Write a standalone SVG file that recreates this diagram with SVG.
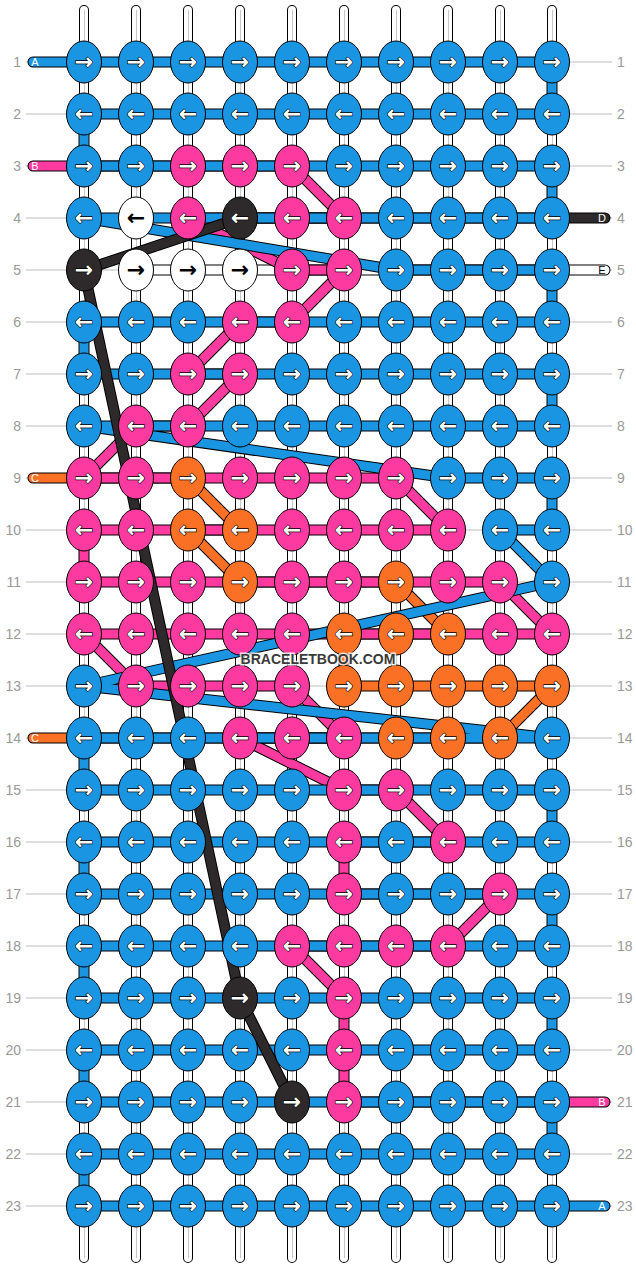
<svg xmlns="http://www.w3.org/2000/svg" width="636" height="1268" viewBox="0 0 636 1268">
<style>
.bg{fill:#fff}
.guide{stroke:#bbb;stroke-width:1}
.num{font-family:"Liberation Sans",Arial,sans-serif;font-size:14px;fill:#999}
.nl{text-anchor:end}
.so{stroke:#000;stroke-width:10;stroke-linecap:round;fill:none}
.sw{stroke:#fff;stroke-width:8;stroke-linecap:round;fill:none}
.sg{stroke:#c8c8c8;stroke-width:1;fill:none}
.o{fill:none;stroke:#000;stroke-width:11;stroke-linejoin:round;stroke-linecap:round}
.c{fill:none;stroke-width:9;stroke-linejoin:round;stroke-linecap:round}
.ca{stroke:#1995e2}.cb{stroke:#fd3a9f}.cc{stroke:#fa7024}.cd{stroke:#2e2a2b}.ce{stroke:#fff}
ellipse{stroke:#000;stroke-width:1}
.kb{fill:#1995e2}.kp{fill:#fd3a9f}.ko{fill:#fa7024}.kd{fill:#2e2a2b}.kw{fill:#fff}
.t{font-family:"DejaVu Sans",sans-serif;font-size:22px;font-weight:bold;text-anchor:middle}
.tw{fill:#fff;stroke:#000;stroke-width:1.2;paint-order:stroke}
.tk{fill:#000}
.tl{font-family:"Liberation Sans",Arial,sans-serif;font-size:11px;text-anchor:middle}
.wm{font-family:"Liberation Sans",Arial,sans-serif;font-size:14px;font-weight:bold;text-anchor:middle;fill:#3a3a3a;stroke:#fff;stroke-opacity:0.8;stroke-width:3;paint-order:stroke}
</style>
<rect class="bg" x="0" y="0" width="636" height="1268"/>
<g id="guides">
<path class="guide" d="M26 62H612M26 114H612M26 166H612M26 218H612M26 270H612M26 322H612M26 374H612M26 426H612M26 478H612M26 530H612M26 582H612M26 634H612M26 686H612M26 738H612M26 790H612M26 842H612M26 894H612M26 946H612M26 998H612M26 1050H612M26 1102H612M26 1154H612M26 1206H612"/>
</g>
<g id="row-numbers">
<text class="num nl" x="21" y="67">1</text><text class="num" x="617" y="67">1</text>
<text class="num nl" x="21" y="119">2</text><text class="num" x="617" y="119">2</text>
<text class="num nl" x="21" y="171">3</text><text class="num" x="617" y="171">3</text>
<text class="num nl" x="21" y="223">4</text><text class="num" x="617" y="223">4</text>
<text class="num nl" x="21" y="275">5</text><text class="num" x="617" y="275">5</text>
<text class="num nl" x="21" y="327">6</text><text class="num" x="617" y="327">6</text>
<text class="num nl" x="21" y="379">7</text><text class="num" x="617" y="379">7</text>
<text class="num nl" x="21" y="431">8</text><text class="num" x="617" y="431">8</text>
<text class="num nl" x="21" y="483">9</text><text class="num" x="617" y="483">9</text>
<text class="num nl" x="21" y="535">10</text><text class="num" x="617" y="535">10</text>
<text class="num nl" x="21" y="587">11</text><text class="num" x="617" y="587">11</text>
<text class="num nl" x="21" y="639">12</text><text class="num" x="617" y="639">12</text>
<text class="num nl" x="21" y="691">13</text><text class="num" x="617" y="691">13</text>
<text class="num nl" x="21" y="743">14</text><text class="num" x="617" y="743">14</text>
<text class="num nl" x="21" y="795">15</text><text class="num" x="617" y="795">15</text>
<text class="num nl" x="21" y="847">16</text><text class="num" x="617" y="847">16</text>
<text class="num nl" x="21" y="899">17</text><text class="num" x="617" y="899">17</text>
<text class="num nl" x="21" y="951">18</text><text class="num" x="617" y="951">18</text>
<text class="num nl" x="21" y="1003">19</text><text class="num" x="617" y="1003">19</text>
<text class="num nl" x="21" y="1055">20</text><text class="num" x="617" y="1055">20</text>
<text class="num nl" x="21" y="1107">21</text><text class="num" x="617" y="1107">21</text>
<text class="num nl" x="21" y="1159">22</text><text class="num" x="617" y="1159">22</text>
<text class="num nl" x="21" y="1211">23</text><text class="num" x="617" y="1211">23</text>
</g>
<g id="strands">
<path class="so" d="M84 10V1258M136 10V1258M188 10V1258M240 10V1258M292 10V1258M344 10V1258M396 10V1258M448 10V1258M500 10V1258M552 10V1258"/>
<path class="sw" d="M84 10V1258M136 10V1258M188 10V1258M240 10V1258M292 10V1258M344 10V1258M396 10V1258M448 10V1258M500 10V1258M552 10V1258"/>
<path class="sg" d="M84.5 10V1258M136.5 10V1258M188.5 10V1258M240.5 10V1258M292.5 10V1258M344.5 10V1258M396.5 10V1258M448.5 10V1258M500.5 10V1258M552.5 10V1258"/>
</g>
<g id="connectors">
<g id="thread-E"><path class="o" d="M136 270H605"/><path class="c ce" d="M136 270H605"/></g>
<g id="thread-C"><path class="o" d="M33 478H188L240 530H188L240 582H396L448 634H344V686H552L500 738H33"/><path class="c cc" d="M33 478H188L240 530H188L240 582H396L448 634H344V686H552L500 738H33"/></g>
<g id="thread-D-tail"><path class="o" d="M605 218H240"/><path class="c cd" d="M605 218H240"/></g>
<g id="thread-B"><path class="o" d="M33 166H292L344 218H188L292 270H344L292 322H240L188 374H240L188 426H136L84 478H396L448 530H84V582H500L552 634H84L136 686H292L344 738H240L344 790H396L448 842H344V894H500L448 946H292L344 998V1102H605"/><path class="c cb" d="M33 166H292L344 218H188L292 270H344L292 322H240L188 374H240L188 426H136L84 478H396L448 530H84V582H500L552 634H84L136 686H292L344 738H240L344 790H396L448 842H344V894H500L448 946H292L344 998V1102H605"/></g>
<g id="thread-A"><path class="o" d="M33 62H552V114H84V166H552V218H84L396 270H552V322H84V374H552V426H84L448 478H552V530H500L552 582L84 686L552 738H84V790H552V842H84V894H552V946H84V998H552V1050H84V1102H552V1154H84V1206H605"/><path class="c ca" d="M33 62H552V114H84V166H552V218H84L396 270H552V322H84V374H552V426H84L448 478H552V530H500L552 582L84 686L552 738H84V790H552V842H84V894H552V946H84V998H552V1050H84V1102H552V1154H84V1206H605"/></g>
<g id="thread-D"><path class="o" d="M240 218L84 270L240 998L292 1102"/><path class="c cd" d="M240 218L84 270L240 998L292 1102"/></g>
</g>
<g id="tail-labels">
<text class="tl" x="35" y="66" fill="#fff">A</text>
<text class="tl" x="35" y="170" fill="#fff">B</text>
<text class="tl" x="35" y="482" fill="#fff">C</text>
<text class="tl" x="35" y="742" fill="#fff">C</text>
<text class="tl" x="602" y="222" fill="#fff">D</text>
<text class="tl" x="602" y="274" fill="#000">E</text>
<text class="tl" x="602" y="1106" fill="#fff">B</text>
<text class="tl" x="602" y="1210" fill="#fff">A</text>
</g>
<g id="knots">
<g id="k1-1"><ellipse class="kb" cx="84" cy="62" rx="17.5" ry="21"/><text class="t tw" x="84" y="69">→</text></g>
<g id="k1-2"><ellipse class="kb" cx="136" cy="62" rx="17.5" ry="21"/><text class="t tw" x="136" y="69">→</text></g>
<g id="k1-3"><ellipse class="kb" cx="188" cy="62" rx="17.5" ry="21"/><text class="t tw" x="188" y="69">→</text></g>
<g id="k1-4"><ellipse class="kb" cx="240" cy="62" rx="17.5" ry="21"/><text class="t tw" x="240" y="69">→</text></g>
<g id="k1-5"><ellipse class="kb" cx="292" cy="62" rx="17.5" ry="21"/><text class="t tw" x="292" y="69">→</text></g>
<g id="k1-6"><ellipse class="kb" cx="344" cy="62" rx="17.5" ry="21"/><text class="t tw" x="344" y="69">→</text></g>
<g id="k1-7"><ellipse class="kb" cx="396" cy="62" rx="17.5" ry="21"/><text class="t tw" x="396" y="69">→</text></g>
<g id="k1-8"><ellipse class="kb" cx="448" cy="62" rx="17.5" ry="21"/><text class="t tw" x="448" y="69">→</text></g>
<g id="k1-9"><ellipse class="kb" cx="500" cy="62" rx="17.5" ry="21"/><text class="t tw" x="500" y="69">→</text></g>
<g id="k1-10"><ellipse class="kb" cx="552" cy="62" rx="17.5" ry="21"/><text class="t tw" x="552" y="69">→</text></g>
<g id="k2-1"><ellipse class="kb" cx="84" cy="114" rx="17.5" ry="21"/><text class="t tw" x="84" y="121">←</text></g>
<g id="k2-2"><ellipse class="kb" cx="136" cy="114" rx="17.5" ry="21"/><text class="t tw" x="136" y="121">←</text></g>
<g id="k2-3"><ellipse class="kb" cx="188" cy="114" rx="17.5" ry="21"/><text class="t tw" x="188" y="121">←</text></g>
<g id="k2-4"><ellipse class="kb" cx="240" cy="114" rx="17.5" ry="21"/><text class="t tw" x="240" y="121">←</text></g>
<g id="k2-5"><ellipse class="kb" cx="292" cy="114" rx="17.5" ry="21"/><text class="t tw" x="292" y="121">←</text></g>
<g id="k2-6"><ellipse class="kb" cx="344" cy="114" rx="17.5" ry="21"/><text class="t tw" x="344" y="121">←</text></g>
<g id="k2-7"><ellipse class="kb" cx="396" cy="114" rx="17.5" ry="21"/><text class="t tw" x="396" y="121">←</text></g>
<g id="k2-8"><ellipse class="kb" cx="448" cy="114" rx="17.5" ry="21"/><text class="t tw" x="448" y="121">←</text></g>
<g id="k2-9"><ellipse class="kb" cx="500" cy="114" rx="17.5" ry="21"/><text class="t tw" x="500" y="121">←</text></g>
<g id="k2-10"><ellipse class="kb" cx="552" cy="114" rx="17.5" ry="21"/><text class="t tw" x="552" y="121">←</text></g>
<g id="k3-1"><ellipse class="kb" cx="84" cy="166" rx="17.5" ry="21"/><text class="t tw" x="84" y="173">→</text></g>
<g id="k3-2"><ellipse class="kb" cx="136" cy="166" rx="17.5" ry="21"/><text class="t tw" x="136" y="173">→</text></g>
<g id="k3-3"><ellipse class="kp" cx="188" cy="166" rx="17.5" ry="21"/><text class="t tw" x="188" y="173">→</text></g>
<g id="k3-4"><ellipse class="kp" cx="240" cy="166" rx="17.5" ry="21"/><text class="t tw" x="240" y="173">→</text></g>
<g id="k3-5"><ellipse class="kp" cx="292" cy="166" rx="17.5" ry="21"/><text class="t tw" x="292" y="173">→</text></g>
<g id="k3-6"><ellipse class="kb" cx="344" cy="166" rx="17.5" ry="21"/><text class="t tw" x="344" y="173">→</text></g>
<g id="k3-7"><ellipse class="kb" cx="396" cy="166" rx="17.5" ry="21"/><text class="t tw" x="396" y="173">→</text></g>
<g id="k3-8"><ellipse class="kb" cx="448" cy="166" rx="17.5" ry="21"/><text class="t tw" x="448" y="173">→</text></g>
<g id="k3-9"><ellipse class="kb" cx="500" cy="166" rx="17.5" ry="21"/><text class="t tw" x="500" y="173">→</text></g>
<g id="k3-10"><ellipse class="kb" cx="552" cy="166" rx="17.5" ry="21"/><text class="t tw" x="552" y="173">→</text></g>
<g id="k4-1"><ellipse class="kb" cx="84" cy="218" rx="17.5" ry="21"/><text class="t tw" x="84" y="225">←</text></g>
<g id="k4-2"><ellipse class="kw" cx="136" cy="218" rx="17.5" ry="21"/><text class="t tk" x="136" y="225">←</text></g>
<g id="k4-3"><ellipse class="kp" cx="188" cy="218" rx="17.5" ry="21"/><text class="t tw" x="188" y="225">←</text></g>
<g id="k4-4"><ellipse class="kd" cx="240" cy="218" rx="17.5" ry="21"/><text class="t tw" x="240" y="225">←</text></g>
<g id="k4-5"><ellipse class="kp" cx="292" cy="218" rx="17.5" ry="21"/><text class="t tw" x="292" y="225">←</text></g>
<g id="k4-6"><ellipse class="kp" cx="344" cy="218" rx="17.5" ry="21"/><text class="t tw" x="344" y="225">←</text></g>
<g id="k4-7"><ellipse class="kb" cx="396" cy="218" rx="17.5" ry="21"/><text class="t tw" x="396" y="225">←</text></g>
<g id="k4-8"><ellipse class="kb" cx="448" cy="218" rx="17.5" ry="21"/><text class="t tw" x="448" y="225">←</text></g>
<g id="k4-9"><ellipse class="kb" cx="500" cy="218" rx="17.5" ry="21"/><text class="t tw" x="500" y="225">←</text></g>
<g id="k4-10"><ellipse class="kb" cx="552" cy="218" rx="17.5" ry="21"/><text class="t tw" x="552" y="225">←</text></g>
<g id="k5-1"><ellipse class="kd" cx="84" cy="270" rx="17.5" ry="21"/><text class="t tw" x="84" y="277">→</text></g>
<g id="k5-2"><ellipse class="kw" cx="136" cy="270" rx="17.5" ry="21"/><text class="t tk" x="136" y="277">→</text></g>
<g id="k5-3"><ellipse class="kw" cx="188" cy="270" rx="17.5" ry="21"/><text class="t tk" x="188" y="277">→</text></g>
<g id="k5-4"><ellipse class="kw" cx="240" cy="270" rx="17.5" ry="21"/><text class="t tk" x="240" y="277">→</text></g>
<g id="k5-5"><ellipse class="kp" cx="292" cy="270" rx="17.5" ry="21"/><text class="t tw" x="292" y="277">→</text></g>
<g id="k5-6"><ellipse class="kp" cx="344" cy="270" rx="17.5" ry="21"/><text class="t tw" x="344" y="277">→</text></g>
<g id="k5-7"><ellipse class="kb" cx="396" cy="270" rx="17.5" ry="21"/><text class="t tw" x="396" y="277">→</text></g>
<g id="k5-8"><ellipse class="kb" cx="448" cy="270" rx="17.5" ry="21"/><text class="t tw" x="448" y="277">→</text></g>
<g id="k5-9"><ellipse class="kb" cx="500" cy="270" rx="17.5" ry="21"/><text class="t tw" x="500" y="277">→</text></g>
<g id="k5-10"><ellipse class="kb" cx="552" cy="270" rx="17.5" ry="21"/><text class="t tw" x="552" y="277">→</text></g>
<g id="k6-1"><ellipse class="kb" cx="84" cy="322" rx="17.5" ry="21"/><text class="t tw" x="84" y="329">←</text></g>
<g id="k6-2"><ellipse class="kb" cx="136" cy="322" rx="17.5" ry="21"/><text class="t tw" x="136" y="329">←</text></g>
<g id="k6-3"><ellipse class="kb" cx="188" cy="322" rx="17.5" ry="21"/><text class="t tw" x="188" y="329">←</text></g>
<g id="k6-4"><ellipse class="kp" cx="240" cy="322" rx="17.5" ry="21"/><text class="t tw" x="240" y="329">←</text></g>
<g id="k6-5"><ellipse class="kp" cx="292" cy="322" rx="17.5" ry="21"/><text class="t tw" x="292" y="329">←</text></g>
<g id="k6-6"><ellipse class="kb" cx="344" cy="322" rx="17.5" ry="21"/><text class="t tw" x="344" y="329">←</text></g>
<g id="k6-7"><ellipse class="kb" cx="396" cy="322" rx="17.5" ry="21"/><text class="t tw" x="396" y="329">←</text></g>
<g id="k6-8"><ellipse class="kb" cx="448" cy="322" rx="17.5" ry="21"/><text class="t tw" x="448" y="329">←</text></g>
<g id="k6-9"><ellipse class="kb" cx="500" cy="322" rx="17.5" ry="21"/><text class="t tw" x="500" y="329">←</text></g>
<g id="k6-10"><ellipse class="kb" cx="552" cy="322" rx="17.5" ry="21"/><text class="t tw" x="552" y="329">←</text></g>
<g id="k7-1"><ellipse class="kb" cx="84" cy="374" rx="17.5" ry="21"/><text class="t tw" x="84" y="381">→</text></g>
<g id="k7-2"><ellipse class="kb" cx="136" cy="374" rx="17.5" ry="21"/><text class="t tw" x="136" y="381">→</text></g>
<g id="k7-3"><ellipse class="kp" cx="188" cy="374" rx="17.5" ry="21"/><text class="t tw" x="188" y="381">→</text></g>
<g id="k7-4"><ellipse class="kp" cx="240" cy="374" rx="17.5" ry="21"/><text class="t tw" x="240" y="381">→</text></g>
<g id="k7-5"><ellipse class="kb" cx="292" cy="374" rx="17.5" ry="21"/><text class="t tw" x="292" y="381">→</text></g>
<g id="k7-6"><ellipse class="kb" cx="344" cy="374" rx="17.5" ry="21"/><text class="t tw" x="344" y="381">→</text></g>
<g id="k7-7"><ellipse class="kb" cx="396" cy="374" rx="17.5" ry="21"/><text class="t tw" x="396" y="381">→</text></g>
<g id="k7-8"><ellipse class="kb" cx="448" cy="374" rx="17.5" ry="21"/><text class="t tw" x="448" y="381">→</text></g>
<g id="k7-9"><ellipse class="kb" cx="500" cy="374" rx="17.5" ry="21"/><text class="t tw" x="500" y="381">→</text></g>
<g id="k7-10"><ellipse class="kb" cx="552" cy="374" rx="17.5" ry="21"/><text class="t tw" x="552" y="381">→</text></g>
<g id="k8-1"><ellipse class="kb" cx="84" cy="426" rx="17.5" ry="21"/><text class="t tw" x="84" y="433">←</text></g>
<g id="k8-2"><ellipse class="kp" cx="136" cy="426" rx="17.5" ry="21"/><text class="t tw" x="136" y="433">←</text></g>
<g id="k8-3"><ellipse class="kp" cx="188" cy="426" rx="17.5" ry="21"/><text class="t tw" x="188" y="433">←</text></g>
<g id="k8-4"><ellipse class="kb" cx="240" cy="426" rx="17.5" ry="21"/><text class="t tw" x="240" y="433">←</text></g>
<g id="k8-5"><ellipse class="kb" cx="292" cy="426" rx="17.5" ry="21"/><text class="t tw" x="292" y="433">←</text></g>
<g id="k8-6"><ellipse class="kb" cx="344" cy="426" rx="17.5" ry="21"/><text class="t tw" x="344" y="433">←</text></g>
<g id="k8-7"><ellipse class="kb" cx="396" cy="426" rx="17.5" ry="21"/><text class="t tw" x="396" y="433">←</text></g>
<g id="k8-8"><ellipse class="kb" cx="448" cy="426" rx="17.5" ry="21"/><text class="t tw" x="448" y="433">←</text></g>
<g id="k8-9"><ellipse class="kb" cx="500" cy="426" rx="17.5" ry="21"/><text class="t tw" x="500" y="433">←</text></g>
<g id="k8-10"><ellipse class="kb" cx="552" cy="426" rx="17.5" ry="21"/><text class="t tw" x="552" y="433">←</text></g>
<g id="k9-1"><ellipse class="kp" cx="84" cy="478" rx="17.5" ry="21"/><text class="t tw" x="84" y="485">→</text></g>
<g id="k9-2"><ellipse class="kp" cx="136" cy="478" rx="17.5" ry="21"/><text class="t tw" x="136" y="485">→</text></g>
<g id="k9-3"><ellipse class="ko" cx="188" cy="478" rx="17.5" ry="21"/><text class="t tw" x="188" y="485">→</text></g>
<g id="k9-4"><ellipse class="kp" cx="240" cy="478" rx="17.5" ry="21"/><text class="t tw" x="240" y="485">→</text></g>
<g id="k9-5"><ellipse class="kp" cx="292" cy="478" rx="17.5" ry="21"/><text class="t tw" x="292" y="485">→</text></g>
<g id="k9-6"><ellipse class="kp" cx="344" cy="478" rx="17.5" ry="21"/><text class="t tw" x="344" y="485">→</text></g>
<g id="k9-7"><ellipse class="kp" cx="396" cy="478" rx="17.5" ry="21"/><text class="t tw" x="396" y="485">→</text></g>
<g id="k9-8"><ellipse class="kb" cx="448" cy="478" rx="17.5" ry="21"/><text class="t tw" x="448" y="485">→</text></g>
<g id="k9-9"><ellipse class="kb" cx="500" cy="478" rx="17.5" ry="21"/><text class="t tw" x="500" y="485">→</text></g>
<g id="k9-10"><ellipse class="kb" cx="552" cy="478" rx="17.5" ry="21"/><text class="t tw" x="552" y="485">→</text></g>
<g id="k10-1"><ellipse class="kp" cx="84" cy="530" rx="17.5" ry="21"/><text class="t tw" x="84" y="537">←</text></g>
<g id="k10-2"><ellipse class="kp" cx="136" cy="530" rx="17.5" ry="21"/><text class="t tw" x="136" y="537">←</text></g>
<g id="k10-3"><ellipse class="ko" cx="188" cy="530" rx="17.5" ry="21"/><text class="t tw" x="188" y="537">←</text></g>
<g id="k10-4"><ellipse class="ko" cx="240" cy="530" rx="17.5" ry="21"/><text class="t tw" x="240" y="537">←</text></g>
<g id="k10-5"><ellipse class="kp" cx="292" cy="530" rx="17.5" ry="21"/><text class="t tw" x="292" y="537">←</text></g>
<g id="k10-6"><ellipse class="kp" cx="344" cy="530" rx="17.5" ry="21"/><text class="t tw" x="344" y="537">←</text></g>
<g id="k10-7"><ellipse class="kp" cx="396" cy="530" rx="17.5" ry="21"/><text class="t tw" x="396" y="537">←</text></g>
<g id="k10-8"><ellipse class="kp" cx="448" cy="530" rx="17.5" ry="21"/><text class="t tw" x="448" y="537">←</text></g>
<g id="k10-9"><ellipse class="kb" cx="500" cy="530" rx="17.5" ry="21"/><text class="t tw" x="500" y="537">←</text></g>
<g id="k10-10"><ellipse class="kb" cx="552" cy="530" rx="17.5" ry="21"/><text class="t tw" x="552" y="537">←</text></g>
<g id="k11-1"><ellipse class="kp" cx="84" cy="582" rx="17.5" ry="21"/><text class="t tw" x="84" y="589">→</text></g>
<g id="k11-2"><ellipse class="kp" cx="136" cy="582" rx="17.5" ry="21"/><text class="t tw" x="136" y="589">→</text></g>
<g id="k11-3"><ellipse class="kp" cx="188" cy="582" rx="17.5" ry="21"/><text class="t tw" x="188" y="589">→</text></g>
<g id="k11-4"><ellipse class="ko" cx="240" cy="582" rx="17.5" ry="21"/><text class="t tw" x="240" y="589">→</text></g>
<g id="k11-5"><ellipse class="kp" cx="292" cy="582" rx="17.5" ry="21"/><text class="t tw" x="292" y="589">→</text></g>
<g id="k11-6"><ellipse class="kp" cx="344" cy="582" rx="17.5" ry="21"/><text class="t tw" x="344" y="589">→</text></g>
<g id="k11-7"><ellipse class="ko" cx="396" cy="582" rx="17.5" ry="21"/><text class="t tw" x="396" y="589">→</text></g>
<g id="k11-8"><ellipse class="kp" cx="448" cy="582" rx="17.5" ry="21"/><text class="t tw" x="448" y="589">→</text></g>
<g id="k11-9"><ellipse class="kp" cx="500" cy="582" rx="17.5" ry="21"/><text class="t tw" x="500" y="589">→</text></g>
<g id="k11-10"><ellipse class="kb" cx="552" cy="582" rx="17.5" ry="21"/><text class="t tw" x="552" y="589">→</text></g>
<g id="k12-1"><ellipse class="kp" cx="84" cy="634" rx="17.5" ry="21"/><text class="t tw" x="84" y="641">←</text></g>
<g id="k12-2"><ellipse class="kp" cx="136" cy="634" rx="17.5" ry="21"/><text class="t tw" x="136" y="641">←</text></g>
<g id="k12-3"><ellipse class="kp" cx="188" cy="634" rx="17.5" ry="21"/><text class="t tw" x="188" y="641">←</text></g>
<g id="k12-4"><ellipse class="kp" cx="240" cy="634" rx="17.5" ry="21"/><text class="t tw" x="240" y="641">←</text></g>
<g id="k12-5"><ellipse class="kp" cx="292" cy="634" rx="17.5" ry="21"/><text class="t tw" x="292" y="641">←</text></g>
<g id="k12-6"><ellipse class="ko" cx="344" cy="634" rx="17.5" ry="21"/><text class="t tw" x="344" y="641">←</text></g>
<g id="k12-7"><ellipse class="ko" cx="396" cy="634" rx="17.5" ry="21"/><text class="t tw" x="396" y="641">←</text></g>
<g id="k12-8"><ellipse class="ko" cx="448" cy="634" rx="17.5" ry="21"/><text class="t tw" x="448" y="641">←</text></g>
<g id="k12-9"><ellipse class="kp" cx="500" cy="634" rx="17.5" ry="21"/><text class="t tw" x="500" y="641">←</text></g>
<g id="k12-10"><ellipse class="kp" cx="552" cy="634" rx="17.5" ry="21"/><text class="t tw" x="552" y="641">←</text></g>
<g id="k13-1"><ellipse class="kb" cx="84" cy="686" rx="17.5" ry="21"/><text class="t tw" x="84" y="693">→</text></g>
<g id="k13-2"><ellipse class="kp" cx="136" cy="686" rx="17.5" ry="21"/><text class="t tw" x="136" y="693">→</text></g>
<g id="k13-3"><ellipse class="kp" cx="188" cy="686" rx="17.5" ry="21"/><text class="t tw" x="188" y="693">→</text></g>
<g id="k13-4"><ellipse class="kp" cx="240" cy="686" rx="17.5" ry="21"/><text class="t tw" x="240" y="693">→</text></g>
<g id="k13-5"><ellipse class="kp" cx="292" cy="686" rx="17.5" ry="21"/><text class="t tw" x="292" y="693">→</text></g>
<g id="k13-6"><ellipse class="ko" cx="344" cy="686" rx="17.5" ry="21"/><text class="t tw" x="344" y="693">→</text></g>
<g id="k13-7"><ellipse class="ko" cx="396" cy="686" rx="17.5" ry="21"/><text class="t tw" x="396" y="693">→</text></g>
<g id="k13-8"><ellipse class="ko" cx="448" cy="686" rx="17.5" ry="21"/><text class="t tw" x="448" y="693">→</text></g>
<g id="k13-9"><ellipse class="ko" cx="500" cy="686" rx="17.5" ry="21"/><text class="t tw" x="500" y="693">→</text></g>
<g id="k13-10"><ellipse class="ko" cx="552" cy="686" rx="17.5" ry="21"/><text class="t tw" x="552" y="693">→</text></g>
<g id="k14-1"><ellipse class="kb" cx="84" cy="738" rx="17.5" ry="21"/><text class="t tw" x="84" y="745">←</text></g>
<g id="k14-2"><ellipse class="kb" cx="136" cy="738" rx="17.5" ry="21"/><text class="t tw" x="136" y="745">←</text></g>
<g id="k14-3"><ellipse class="kb" cx="188" cy="738" rx="17.5" ry="21"/><text class="t tw" x="188" y="745">←</text></g>
<g id="k14-4"><ellipse class="kp" cx="240" cy="738" rx="17.5" ry="21"/><text class="t tw" x="240" y="745">←</text></g>
<g id="k14-5"><ellipse class="kp" cx="292" cy="738" rx="17.5" ry="21"/><text class="t tw" x="292" y="745">←</text></g>
<g id="k14-6"><ellipse class="kp" cx="344" cy="738" rx="17.5" ry="21"/><text class="t tw" x="344" y="745">←</text></g>
<g id="k14-7"><ellipse class="ko" cx="396" cy="738" rx="17.5" ry="21"/><text class="t tw" x="396" y="745">←</text></g>
<g id="k14-8"><ellipse class="ko" cx="448" cy="738" rx="17.5" ry="21"/><text class="t tw" x="448" y="745">←</text></g>
<g id="k14-9"><ellipse class="ko" cx="500" cy="738" rx="17.5" ry="21"/><text class="t tw" x="500" y="745">←</text></g>
<g id="k14-10"><ellipse class="kb" cx="552" cy="738" rx="17.5" ry="21"/><text class="t tw" x="552" y="745">←</text></g>
<g id="k15-1"><ellipse class="kb" cx="84" cy="790" rx="17.5" ry="21"/><text class="t tw" x="84" y="797">→</text></g>
<g id="k15-2"><ellipse class="kb" cx="136" cy="790" rx="17.5" ry="21"/><text class="t tw" x="136" y="797">→</text></g>
<g id="k15-3"><ellipse class="kb" cx="188" cy="790" rx="17.5" ry="21"/><text class="t tw" x="188" y="797">→</text></g>
<g id="k15-4"><ellipse class="kb" cx="240" cy="790" rx="17.5" ry="21"/><text class="t tw" x="240" y="797">→</text></g>
<g id="k15-5"><ellipse class="kb" cx="292" cy="790" rx="17.5" ry="21"/><text class="t tw" x="292" y="797">→</text></g>
<g id="k15-6"><ellipse class="kp" cx="344" cy="790" rx="17.5" ry="21"/><text class="t tw" x="344" y="797">→</text></g>
<g id="k15-7"><ellipse class="kp" cx="396" cy="790" rx="17.5" ry="21"/><text class="t tw" x="396" y="797">→</text></g>
<g id="k15-8"><ellipse class="kb" cx="448" cy="790" rx="17.5" ry="21"/><text class="t tw" x="448" y="797">→</text></g>
<g id="k15-9"><ellipse class="kb" cx="500" cy="790" rx="17.5" ry="21"/><text class="t tw" x="500" y="797">→</text></g>
<g id="k15-10"><ellipse class="kb" cx="552" cy="790" rx="17.5" ry="21"/><text class="t tw" x="552" y="797">→</text></g>
<g id="k16-1"><ellipse class="kb" cx="84" cy="842" rx="17.5" ry="21"/><text class="t tw" x="84" y="849">←</text></g>
<g id="k16-2"><ellipse class="kb" cx="136" cy="842" rx="17.5" ry="21"/><text class="t tw" x="136" y="849">←</text></g>
<g id="k16-3"><ellipse class="kb" cx="188" cy="842" rx="17.5" ry="21"/><text class="t tw" x="188" y="849">←</text></g>
<g id="k16-4"><ellipse class="kb" cx="240" cy="842" rx="17.5" ry="21"/><text class="t tw" x="240" y="849">←</text></g>
<g id="k16-5"><ellipse class="kb" cx="292" cy="842" rx="17.5" ry="21"/><text class="t tw" x="292" y="849">←</text></g>
<g id="k16-6"><ellipse class="kp" cx="344" cy="842" rx="17.5" ry="21"/><text class="t tw" x="344" y="849">←</text></g>
<g id="k16-7"><ellipse class="kb" cx="396" cy="842" rx="17.5" ry="21"/><text class="t tw" x="396" y="849">←</text></g>
<g id="k16-8"><ellipse class="kp" cx="448" cy="842" rx="17.5" ry="21"/><text class="t tw" x="448" y="849">←</text></g>
<g id="k16-9"><ellipse class="kb" cx="500" cy="842" rx="17.5" ry="21"/><text class="t tw" x="500" y="849">←</text></g>
<g id="k16-10"><ellipse class="kb" cx="552" cy="842" rx="17.5" ry="21"/><text class="t tw" x="552" y="849">←</text></g>
<g id="k17-1"><ellipse class="kb" cx="84" cy="894" rx="17.5" ry="21"/><text class="t tw" x="84" y="901">→</text></g>
<g id="k17-2"><ellipse class="kb" cx="136" cy="894" rx="17.5" ry="21"/><text class="t tw" x="136" y="901">→</text></g>
<g id="k17-3"><ellipse class="kb" cx="188" cy="894" rx="17.5" ry="21"/><text class="t tw" x="188" y="901">→</text></g>
<g id="k17-4"><ellipse class="kb" cx="240" cy="894" rx="17.5" ry="21"/><text class="t tw" x="240" y="901">→</text></g>
<g id="k17-5"><ellipse class="kb" cx="292" cy="894" rx="17.5" ry="21"/><text class="t tw" x="292" y="901">→</text></g>
<g id="k17-6"><ellipse class="kp" cx="344" cy="894" rx="17.5" ry="21"/><text class="t tw" x="344" y="901">→</text></g>
<g id="k17-7"><ellipse class="kb" cx="396" cy="894" rx="17.5" ry="21"/><text class="t tw" x="396" y="901">→</text></g>
<g id="k17-8"><ellipse class="kb" cx="448" cy="894" rx="17.5" ry="21"/><text class="t tw" x="448" y="901">→</text></g>
<g id="k17-9"><ellipse class="kp" cx="500" cy="894" rx="17.5" ry="21"/><text class="t tw" x="500" y="901">→</text></g>
<g id="k17-10"><ellipse class="kb" cx="552" cy="894" rx="17.5" ry="21"/><text class="t tw" x="552" y="901">→</text></g>
<g id="k18-1"><ellipse class="kb" cx="84" cy="946" rx="17.5" ry="21"/><text class="t tw" x="84" y="953">←</text></g>
<g id="k18-2"><ellipse class="kb" cx="136" cy="946" rx="17.5" ry="21"/><text class="t tw" x="136" y="953">←</text></g>
<g id="k18-3"><ellipse class="kb" cx="188" cy="946" rx="17.5" ry="21"/><text class="t tw" x="188" y="953">←</text></g>
<g id="k18-4"><ellipse class="kb" cx="240" cy="946" rx="17.5" ry="21"/><text class="t tw" x="240" y="953">←</text></g>
<g id="k18-5"><ellipse class="kp" cx="292" cy="946" rx="17.5" ry="21"/><text class="t tw" x="292" y="953">←</text></g>
<g id="k18-6"><ellipse class="kp" cx="344" cy="946" rx="17.5" ry="21"/><text class="t tw" x="344" y="953">←</text></g>
<g id="k18-7"><ellipse class="kp" cx="396" cy="946" rx="17.5" ry="21"/><text class="t tw" x="396" y="953">←</text></g>
<g id="k18-8"><ellipse class="kp" cx="448" cy="946" rx="17.5" ry="21"/><text class="t tw" x="448" y="953">←</text></g>
<g id="k18-9"><ellipse class="kb" cx="500" cy="946" rx="17.5" ry="21"/><text class="t tw" x="500" y="953">←</text></g>
<g id="k18-10"><ellipse class="kb" cx="552" cy="946" rx="17.5" ry="21"/><text class="t tw" x="552" y="953">←</text></g>
<g id="k19-1"><ellipse class="kb" cx="84" cy="998" rx="17.5" ry="21"/><text class="t tw" x="84" y="1005">→</text></g>
<g id="k19-2"><ellipse class="kb" cx="136" cy="998" rx="17.5" ry="21"/><text class="t tw" x="136" y="1005">→</text></g>
<g id="k19-3"><ellipse class="kb" cx="188" cy="998" rx="17.5" ry="21"/><text class="t tw" x="188" y="1005">→</text></g>
<g id="k19-4"><ellipse class="kd" cx="240" cy="998" rx="17.5" ry="21"/><text class="t tw" x="240" y="1005">→</text></g>
<g id="k19-5"><ellipse class="kb" cx="292" cy="998" rx="17.5" ry="21"/><text class="t tw" x="292" y="1005">→</text></g>
<g id="k19-6"><ellipse class="kp" cx="344" cy="998" rx="17.5" ry="21"/><text class="t tw" x="344" y="1005">→</text></g>
<g id="k19-7"><ellipse class="kb" cx="396" cy="998" rx="17.5" ry="21"/><text class="t tw" x="396" y="1005">→</text></g>
<g id="k19-8"><ellipse class="kb" cx="448" cy="998" rx="17.5" ry="21"/><text class="t tw" x="448" y="1005">→</text></g>
<g id="k19-9"><ellipse class="kb" cx="500" cy="998" rx="17.5" ry="21"/><text class="t tw" x="500" y="1005">→</text></g>
<g id="k19-10"><ellipse class="kb" cx="552" cy="998" rx="17.5" ry="21"/><text class="t tw" x="552" y="1005">→</text></g>
<g id="k20-1"><ellipse class="kb" cx="84" cy="1050" rx="17.5" ry="21"/><text class="t tw" x="84" y="1057">←</text></g>
<g id="k20-2"><ellipse class="kb" cx="136" cy="1050" rx="17.5" ry="21"/><text class="t tw" x="136" y="1057">←</text></g>
<g id="k20-3"><ellipse class="kb" cx="188" cy="1050" rx="17.5" ry="21"/><text class="t tw" x="188" y="1057">←</text></g>
<g id="k20-4"><ellipse class="kb" cx="240" cy="1050" rx="17.5" ry="21"/><text class="t tw" x="240" y="1057">←</text></g>
<g id="k20-5"><ellipse class="kb" cx="292" cy="1050" rx="17.5" ry="21"/><text class="t tw" x="292" y="1057">←</text></g>
<g id="k20-6"><ellipse class="kp" cx="344" cy="1050" rx="17.5" ry="21"/><text class="t tw" x="344" y="1057">←</text></g>
<g id="k20-7"><ellipse class="kb" cx="396" cy="1050" rx="17.5" ry="21"/><text class="t tw" x="396" y="1057">←</text></g>
<g id="k20-8"><ellipse class="kb" cx="448" cy="1050" rx="17.5" ry="21"/><text class="t tw" x="448" y="1057">←</text></g>
<g id="k20-9"><ellipse class="kb" cx="500" cy="1050" rx="17.5" ry="21"/><text class="t tw" x="500" y="1057">←</text></g>
<g id="k20-10"><ellipse class="kb" cx="552" cy="1050" rx="17.5" ry="21"/><text class="t tw" x="552" y="1057">←</text></g>
<g id="k21-1"><ellipse class="kb" cx="84" cy="1102" rx="17.5" ry="21"/><text class="t tw" x="84" y="1109">→</text></g>
<g id="k21-2"><ellipse class="kb" cx="136" cy="1102" rx="17.5" ry="21"/><text class="t tw" x="136" y="1109">→</text></g>
<g id="k21-3"><ellipse class="kb" cx="188" cy="1102" rx="17.5" ry="21"/><text class="t tw" x="188" y="1109">→</text></g>
<g id="k21-4"><ellipse class="kb" cx="240" cy="1102" rx="17.5" ry="21"/><text class="t tw" x="240" y="1109">→</text></g>
<g id="k21-5"><ellipse class="kd" cx="292" cy="1102" rx="17.5" ry="21"/><text class="t tw" x="292" y="1109">→</text></g>
<g id="k21-6"><ellipse class="kp" cx="344" cy="1102" rx="17.5" ry="21"/><text class="t tw" x="344" y="1109">→</text></g>
<g id="k21-7"><ellipse class="kb" cx="396" cy="1102" rx="17.5" ry="21"/><text class="t tw" x="396" y="1109">→</text></g>
<g id="k21-8"><ellipse class="kb" cx="448" cy="1102" rx="17.5" ry="21"/><text class="t tw" x="448" y="1109">→</text></g>
<g id="k21-9"><ellipse class="kb" cx="500" cy="1102" rx="17.5" ry="21"/><text class="t tw" x="500" y="1109">→</text></g>
<g id="k21-10"><ellipse class="kb" cx="552" cy="1102" rx="17.5" ry="21"/><text class="t tw" x="552" y="1109">→</text></g>
<g id="k22-1"><ellipse class="kb" cx="84" cy="1154" rx="17.5" ry="21"/><text class="t tw" x="84" y="1161">←</text></g>
<g id="k22-2"><ellipse class="kb" cx="136" cy="1154" rx="17.5" ry="21"/><text class="t tw" x="136" y="1161">←</text></g>
<g id="k22-3"><ellipse class="kb" cx="188" cy="1154" rx="17.5" ry="21"/><text class="t tw" x="188" y="1161">←</text></g>
<g id="k22-4"><ellipse class="kb" cx="240" cy="1154" rx="17.5" ry="21"/><text class="t tw" x="240" y="1161">←</text></g>
<g id="k22-5"><ellipse class="kb" cx="292" cy="1154" rx="17.5" ry="21"/><text class="t tw" x="292" y="1161">←</text></g>
<g id="k22-6"><ellipse class="kb" cx="344" cy="1154" rx="17.5" ry="21"/><text class="t tw" x="344" y="1161">←</text></g>
<g id="k22-7"><ellipse class="kb" cx="396" cy="1154" rx="17.5" ry="21"/><text class="t tw" x="396" y="1161">←</text></g>
<g id="k22-8"><ellipse class="kb" cx="448" cy="1154" rx="17.5" ry="21"/><text class="t tw" x="448" y="1161">←</text></g>
<g id="k22-9"><ellipse class="kb" cx="500" cy="1154" rx="17.5" ry="21"/><text class="t tw" x="500" y="1161">←</text></g>
<g id="k22-10"><ellipse class="kb" cx="552" cy="1154" rx="17.5" ry="21"/><text class="t tw" x="552" y="1161">←</text></g>
<g id="k23-1"><ellipse class="kb" cx="84" cy="1206" rx="17.5" ry="21"/><text class="t tw" x="84" y="1213">→</text></g>
<g id="k23-2"><ellipse class="kb" cx="136" cy="1206" rx="17.5" ry="21"/><text class="t tw" x="136" y="1213">→</text></g>
<g id="k23-3"><ellipse class="kb" cx="188" cy="1206" rx="17.5" ry="21"/><text class="t tw" x="188" y="1213">→</text></g>
<g id="k23-4"><ellipse class="kb" cx="240" cy="1206" rx="17.5" ry="21"/><text class="t tw" x="240" y="1213">→</text></g>
<g id="k23-5"><ellipse class="kb" cx="292" cy="1206" rx="17.5" ry="21"/><text class="t tw" x="292" y="1213">→</text></g>
<g id="k23-6"><ellipse class="kb" cx="344" cy="1206" rx="17.5" ry="21"/><text class="t tw" x="344" y="1213">→</text></g>
<g id="k23-7"><ellipse class="kb" cx="396" cy="1206" rx="17.5" ry="21"/><text class="t tw" x="396" y="1213">→</text></g>
<g id="k23-8"><ellipse class="kb" cx="448" cy="1206" rx="17.5" ry="21"/><text class="t tw" x="448" y="1213">→</text></g>
<g id="k23-9"><ellipse class="kb" cx="500" cy="1206" rx="17.5" ry="21"/><text class="t tw" x="500" y="1213">→</text></g>
<g id="k23-10"><ellipse class="kb" cx="552" cy="1206" rx="17.5" ry="21"/><text class="t tw" x="552" y="1213">→</text></g>
</g>
<g id="watermark"><text class="wm" x="318" y="664">BRACELETBOOK.COM</text></g>
</svg>
